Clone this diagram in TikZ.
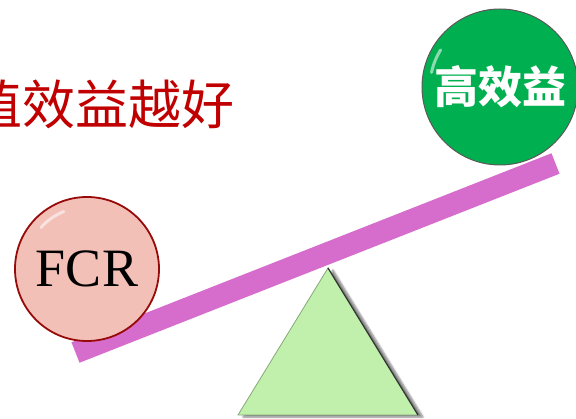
\documentclass[tikz,border=0pt]{standalone}
\usepackage{fontspec}
\setmainfont{Liberation Serif}
\newfontfamily\cjk{Noto Sans CJK SC}
\usetikzlibrary{shadows.blur}

\definecolor{titlered}{RGB}{192,0,0}
\definecolor{fcrpink}{RGB}{243,192,184}
\definecolor{fcrrim}{RGB}{150,10,10}
\definecolor{goodgreen}{RGB}{0,176,80}
\definecolor{beampink}{RGB}{214,108,204}
\definecolor{baselime}{RGB}{192,240,172}

\begin{document}
\begin{tikzpicture}[x=1pt, y=-1pt,
		ball/.style={circle, inner sep=0pt, minimum size=#1},
		gloss/.style={white, line width=3pt, line cap=round, opacity=0.55},
		beam/.style={beampink, line width=22pt}]
	\useasboundingbox (0,0) rectangle (576,419);
	\clip (0,0) rectangle (576,419);

	\node[text=titlered, font=\cjk\fontsize{53}{60}\selectfont, inner sep=0pt] (title) at (102,104) {值效益越好};

	% fulcrum
	\fill[baselime, draw=baselime!70!black, line width=0.8pt,
		blur shadow={shadow xshift=5pt, shadow yshift=-2pt, shadow blur steps=6, shadow opacity=50}]
		(328,268) -- (418,415) -- (238,415) -- cycle;
	\draw[black!80, line width=1.2pt] (328,268) -- (418,415);

	% seesaw plank
	\coordinate (beamL) at (75.5,352.5);
	\coordinate (beamR) at (555.5,163.5);
	\draw[beam] (beamL) -- (beamR);

	\node[ball=144pt, fill=fcrpink, draw=fcrrim, line width=1.8pt,
		font=\fontsize{54}{60}\selectfont] (fcr) at (87,269) {FCR};
	\draw[gloss] (fcr.center) ++(-112:62) arc[start angle=-112, end angle=-138, radius=62];

	\node[ball=156pt, fill=goodgreen, draw=black!65, line width=1pt,
		text=white, font=\cjk\bfseries\fontsize{44}{50}\selectfont] (gaoxiao) at (500,87) {高效益};
	\draw[gloss] (gaoxiao.center) ++(-148:70) arc[start angle=-148, end angle=-168, radius=70];
\end{tikzpicture}
\end{document}
